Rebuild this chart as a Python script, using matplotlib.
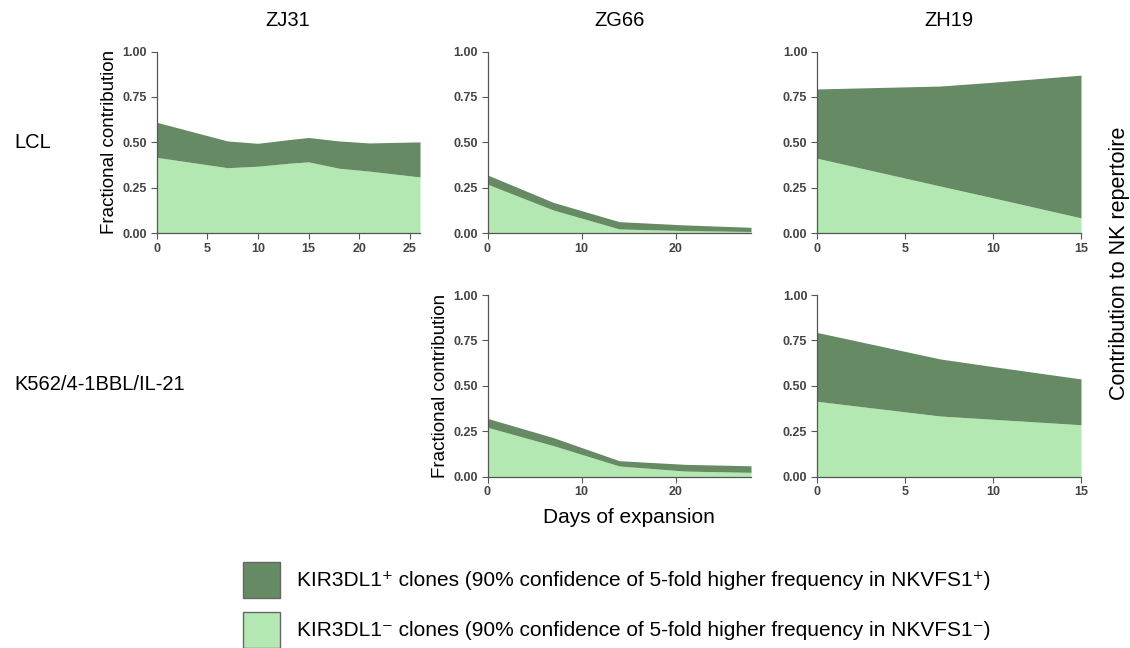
import matplotlib
matplotlib.use("Agg")
import matplotlib.pyplot as plt
from matplotlib.patches import Rectangle

plt.rcParams['font.family'] = ['Liberation Sans', 'DejaVu Sans']

donors = ["ZJ31", "ZG66", "ZH19"]
conditions = ["LCL", "K562/4-1BBL/IL-21"]

# ZJ31 LCL
zj31_lcl_days = [0, 7, 10, 13, 15, 18, 21, 26]
zj31_lcl_neg = [0.418, 0.361, 0.369, 0.385, 0.393, 0.358, 0.342, 0.31]
zj31_lcl_total = [0.611, 0.508, 0.495, 0.515, 0.527, 0.508, 0.497, 0.503]

# ZG66 LCL
zg66_lcl_days = [0, 7, 14, 21, 28]
zg66_lcl_neg = [0.27, 0.128, 0.024, 0.015, 0.01]
zg66_lcl_total = [0.321, 0.17, 0.064, 0.046, 0.033]

# ZH19 LCL
zh19_lcl_days = [0, 7, 10, 15]
zh19_lcl_neg = [0.413, 0.26, 0.195, 0.085]
zh19_lcl_total = [0.794, 0.81, 0.831, 0.870]

# ZG66 K562
zg66_k562_days = [0, 7, 14, 21, 28]
zg66_k562_neg = [0.272, 0.171, 0.059, 0.031, 0.024]
zg66_k562_total = [0.321, 0.215, 0.088, 0.068, 0.06]

# ZH19 K562
zh19_k562_days = [0, 7, 10, 15]
zh19_k562_neg = [0.415, 0.334, 0.316, 0.286]
zh19_k562_total = [0.794, 0.648, 0.606, 0.538]

x_limits = {"ZJ31": 26, "ZG66": 28, "ZH19": 15}
x_ticks = {"ZJ31": [0, 5, 10, 15, 20, 25], "ZG66": [0, 10, 20], "ZH19": [0, 5, 10, 15]}
y_ticks = [0.0, 0.25, 0.5, 0.75, 1.0]

legend_labels = [
    "KIR3DL1\u207a clones (90% confidence of 5-fold higher frequency in NKVFS1\u207a)",
    "KIR3DL1\u207b clones (90% confidence of 5-fold higher frequency in NKVFS1\u207b)",
]

DARK = "#658a64"
LIGHT = "#b3e8b2"
TICKC = "#444444"

panels = {
    (0, 0): (zj31_lcl_days, zj31_lcl_neg, zj31_lcl_total),
    (0, 1): (zg66_lcl_days, zg66_lcl_neg, zg66_lcl_total),
    (0, 2): (zh19_lcl_days, zh19_lcl_neg, zh19_lcl_total),
    (1, 1): (zg66_k562_days, zg66_k562_neg, zg66_k562_total),
    (1, 2): (zh19_k562_days, zh19_k562_neg, zh19_k562_total),
}

W, H = 1130, 648
fig = plt.figure(figsize=(W / 100, H / 100), dpi=100)

col_lr = [(156.5, 420), (487.5, 751), (817, 1081)]
row_tb = [(51.5, 233.3), (295, 476.7)]

def px_axes(l, r, t, b):
    return fig.add_axes([l / W, 1 - b / H, (r - l) / W, (b - t) / H])

for (ri, ci), (d, neg, tot) in panels.items():
    l, r = col_lr[ci]
    t, b = row_tb[ri]
    ax = px_axes(l, r, t, b)
    donor = donors[ci]
    ax.fill_between(d, 0, neg, color=LIGHT, lw=0)
    ax.fill_between(d, neg, tot, color=DARK, lw=0)
    ax.set_xlim(0, x_limits[donor])
    ax.set_ylim(0, 1)
    ax.set_xticks(x_ticks[donor])
    ax.set_yticks(y_ticks)
    ax.set_yticklabels([f"{v:.2f}" for v in y_ticks])
    for s in ["top", "right"]:
        ax.spines[s].set_visible(False)
    for s in ["left", "bottom"]:
        ax.spines[s].set_color("#555555")
        ax.spines[s].set_linewidth(0.9)
    ax.tick_params(axis="both", length=4, width=0.8, color="#555555",
                   labelsize=9, labelcolor=TICKC, pad=3)
    for lab in ax.get_xticklabels() + ax.get_yticklabels():
        lab.set_fontweight("bold")
    if ci == 0 or (ri == 1 and ci == 1):
        ax.set_ylabel("Fractional contribution", fontsize=13.5, labelpad=3)
    if ri == 1 and ci == 1:
        ax.set_xlabel("Days of expansion", fontsize=15, labelpad=6)
        ax.xaxis.set_label_coords((629 - l) / (r - l), -0.17)

# column titles
for ci, name in enumerate(donors):
    l, r = col_lr[ci]
    fig.text((l + r) / 2 / W, 1 - 21 / H, name, ha="center", va="center", fontsize=14.5)

# row labels
fig.text(14 / W, 1 - 143 / H, conditions[0], ha="left", va="center", fontsize=14.5)
fig.text(14 / W, 1 - 385 / H, conditions[1], ha="left", va="center", fontsize=14.5)

# right label
fig.text(1119 / W, 1 - 263 / H, "Contribution to NK repertoire", rotation=90,
         ha="center", va="center", fontsize=15.5)

# legend
for i, (lab, col) in enumerate(zip(legend_labels, [DARK, LIGHT])):
    y0 = 562 + i * 50
    fig.patches.append(Rectangle((243 / W, 1 - (y0 + 36) / H), 37 / W, 36 / H,
                                 transform=fig.transFigure, facecolor=col,
                                 edgecolor="#666666", lw=1.0))
    fig.text(297 / W, 1 - (y0 + 19) / H, lab, ha="left", va="center", fontsize=15)

fig.savefig("out.png", dpi=100)
